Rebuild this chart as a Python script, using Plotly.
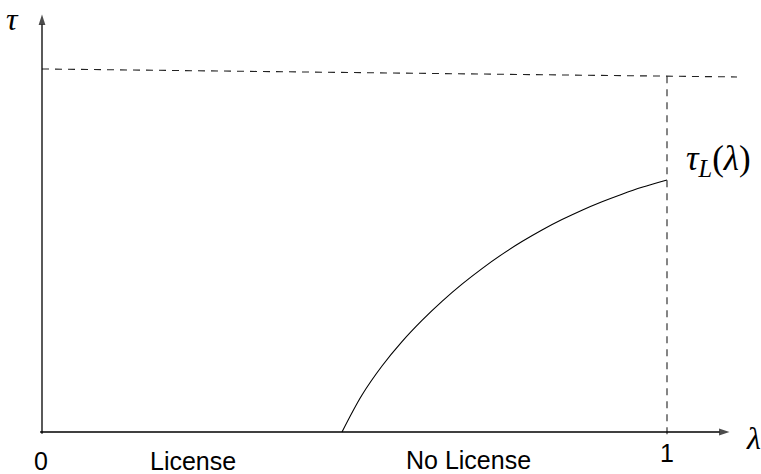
import plotly.graph_objects as go

# Threshold curve tau_L(lambda): zero below the licensing cutoff, rising concavely to lambda = 1
lam_curve = [0.48, 0.512, 0.544, 0.576, 0.608, 0.640, 0.672, 0.704, 0.736,
             0.768, 0.800, 0.832, 0.864, 0.896, 0.928, 0.960, 1.0]
tau_curve = [0.0, 0.1019, 0.1818, 0.2490, 0.3074, 0.3598, 0.4072, 0.4501, 0.4893,
             0.5245, 0.5565, 0.5851, 0.6110, 0.6342, 0.6551, 0.6741, 0.6942]

# Upper dashed bound and vertical marker at lambda = 1
bound_lam = [0.0, 1.112]
bound_tau = [1.0, 0.978]
vert_lam = [1.0, 1.0]
vert_tau = [-0.006, 0.98]

# Axis extents (with arrow tips)
x_axis_lam = [-0.003, 1.100]
y_axis_tau = [-0.005, 1.150]

tick_labels = ["0", "1"]
tick_pos = [-0.002, 1.0]
region_labels = ["License", "No License"]
region_pos = [0.2408, 0.6816]

X_RANGE = [-0.0672, 1.1504]
Y_RANGE = [-0.1157, 1.190]

fig = go.Figure()

fig.add_trace(go.Scatter(x=lam_curve, y=tau_curve, mode="lines",
                         line=dict(color="black", width=1.1, shape="spline", smoothing=1.0),
                         hoverinfo="skip"))
fig.add_trace(go.Scatter(x=bound_lam, y=bound_tau, mode="lines",
                         line=dict(color="#222", width=1.1, dash="7px,6px"), hoverinfo="skip"))
fig.add_trace(go.Scatter(x=vert_lam, y=vert_tau, mode="lines",
                         line=dict(color="#222", width=1.1, dash="7px,6px"), hoverinfo="skip"))

# Axes drawn as lines ending in arrow markers
axis_marker = dict(symbol="arrow", angleref="previous", size=[0, 11], color="black",
                   line=dict(width=0))
fig.add_trace(go.Scatter(x=x_axis_lam, y=[0, 0], mode="lines+markers",
                         line=dict(color="black", width=1.3), marker=axis_marker,
                         hoverinfo="skip"))
fig.add_trace(go.Scatter(x=[0, 0], y=y_axis_tau, mode="lines+markers",
                         line=dict(color="black", width=1.3), marker=axis_marker,
                         hoverinfo="skip"))

sans = dict(family="Liberation Sans, Arial, sans-serif", size=25, color="black")
serif = dict(family="Liberation Serif, DejaVu Serif, serif", size=32, color="black")
serif_big = dict(family="Liberation Serif, DejaVu Serif, serif", size=35, color="black")

fig.add_annotation(x=tick_pos[0], y=-0.079, text=tick_labels[0], showarrow=False,
                   font=sans, borderpad=0)
fig.add_annotation(x=tick_pos[1], y=-0.058, text=tick_labels[1], showarrow=False,
                   font=sans, borderpad=0)
fig.add_annotation(x=region_pos[0], y=-0.079, text=region_labels[0], showarrow=False,
                   font=sans, borderpad=0)
fig.add_annotation(x=region_pos[1], y=-0.078, text=region_labels[1], showarrow=False,
                   font=sans, borderpad=0)

fig.add_annotation(x=(12 - 42) / 625, y=(432 - 19) / 363, text="<i>τ</i>",
                   showarrow=False, font=serif)
fig.add_annotation(x=(753 - 42) / 625, y=(432 - 438) / 363, text="<i>λ</i>",
                   showarrow=False, font=serif)
fig.add_annotation(x=(684 - 42) / 625, y=(432 - 161) / 363, xanchor="left", yanchor="middle",
                   text="<i>τ</i><sub><i>L</i></sub>(<i>λ</i>)",
                   showarrow=False, font=serif_big)

fig.update_layout(
    width=761, height=474,
    margin=dict(l=0, r=0, t=0, b=0),
    plot_bgcolor="white", paper_bgcolor="white",
    showlegend=False,
    xaxis=dict(range=X_RANGE, visible=False, fixedrange=True),
    yaxis=dict(range=Y_RANGE, visible=False, fixedrange=True),
)

fig.write_html("out.html")
